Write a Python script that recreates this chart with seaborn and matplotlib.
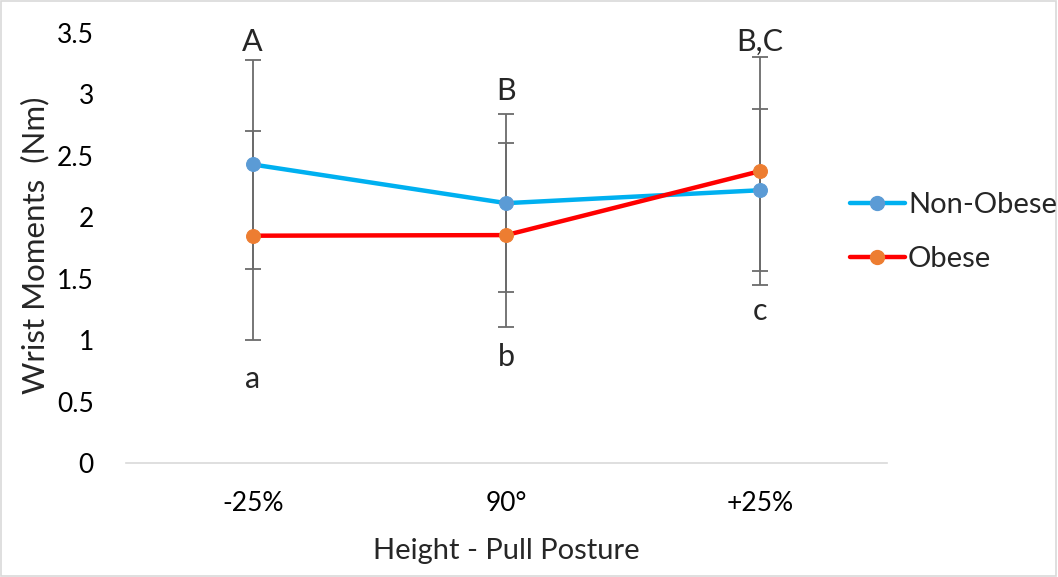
import matplotlib
matplotlib.use("Agg")
import matplotlib.pyplot as plt
from matplotlib.lines import Line2D
from matplotlib.patches import Rectangle
import pandas as pd
import seaborn as sns

# Data
postures = ["-25%", "90°", "+25%"]
non_obese = [2.43, 2.115, 2.22]
obese = [1.85, 1.855, 2.375]
non_obese_err = [0.85, 0.725, 0.66]
obese_err = [0.85, 0.75, 0.93]
upper_letters = ["A", "B", "B,C"]
upper_letter_y = [3.43, 3.03, 3.43]
lower_letters = ["a", "b", "c"]
lower_letter_y = [0.68, 0.86, 1.24]
y_ticks = [0, 0.5, 1, 1.5, 2, 2.5, 3, 3.5]

sns.set_theme(style="white")
plt.rcParams["font.family"] = ["Lato", "DejaVu Sans"]

df = pd.DataFrame({
    "Posture": postures * 2,
    "Moment": non_obese + obese,
    "Group": ["Non-Obese"] * 3 + ["Obese"] * 3,
})

fig = plt.figure(figsize=(10.58, 5.77), dpi=100)
ax = fig.add_axes([0.119, 0.1976, 0.719, 0.7452])

x = list(range(len(postures)))
err_color = "#6b6b6b"
ax.errorbar(x, non_obese, yerr=non_obese_err, fmt="none", ecolor=err_color,
            elinewidth=1.3, capsize=6, capthick=1.3, zorder=1)
ax.errorbar(x, obese, yerr=obese_err, fmt="none", ecolor=err_color,
            elinewidth=1.3, capsize=6, capthick=1.3, zorder=1)

styles = {
    "Non-Obese": dict(line="#00B0F0", marker="#5B9BD5"),
    "Obese": dict(line="#FF0000", marker="#ED7D31"),
}
for grp, st in styles.items():
    sub = df[df["Group"] == grp]
    sns.lineplot(data=sub, x="Posture", y="Moment", ax=ax, color=st["line"],
                 linewidth=3.2, marker="o", markersize=10,
                 markerfacecolor=st["marker"], markeredgecolor=st["marker"],
                 sort=False, zorder=3)

for i in x:
    ax.text(i, upper_letter_y[i], upper_letters[i], ha="center", va="center", fontsize=22)
    ax.text(i, lower_letter_y[i], lower_letters[i], ha="center", va="center", fontsize=22)

ax.set_xlim(-0.5, 2.5)
ax.set_ylim(0, 3.5)
ax.set_yticks(y_ticks)
ax.set_yticklabels([f"{t:g}" for t in y_ticks])
ax.set_xticks(x)
ax.set_xticklabels(postures)
ax.tick_params(axis="both", labelsize=19, length=0, colors="black")
ax.tick_params(axis="x", pad=20)
ax.tick_params(axis="y", pad=23)

for s in ["top", "right", "left"]:
    ax.spines[s].set_visible(False)
ax.spines["bottom"].set_color("#d9d9d9")
ax.spines["bottom"].set_linewidth(1.2)

ax.set_xlabel("Height - Pull Posture", fontsize=21)
ax.set_ylabel("Wrist Moments  (Nm)", fontsize=22.5)
ax.yaxis.set_label_coords(-0.1, 0.507)
ax.yaxis.label.set_horizontalalignment("center")
ax.xaxis.set_label_coords(0.5, -0.204)
ax.xaxis.label.set_verticalalignment("center")

handles = [
    Line2D([0], [0], color=styles[g]["line"], linewidth=3.2, marker="o", markersize=10,
           markerfacecolor=styles[g]["marker"], markeredgecolor=styles[g]["marker"])
    for g in styles
]
fig.legend(handles, list(styles.keys()), loc="center left",
           bbox_to_anchor=(0.803, 0.598), frameon=False, fontsize=21,
           borderpad=0, borderaxespad=0,
           handlelength=1.9, handletextpad=0.1, labelspacing=0.95)

fig.patches.append(Rectangle((0.001, 0.001), 0.997, 0.997, transform=fig.transFigure,
                             fill=False, edgecolor="#d9d9d9", linewidth=1.2))

fig.savefig("out.png", dpi=100)
